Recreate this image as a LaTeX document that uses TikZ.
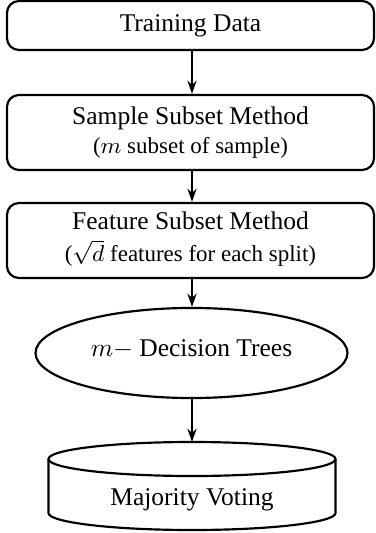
\documentclass[tikz,border=0pt]{standalone}
\usepackage{fontspec}
\setmainfont{Liberation Serif}
\usetikzlibrary{arrows.meta,shapes.geometric}
\begin{document}
\begin{tikzpicture}[x=0.392pt,y=-0.392pt,
  box/.style={draw,line width=0.85pt,rounded corners=4.7pt,minimum width=143.9pt,inner sep=0pt},
  arr/.style={-{Stealth[length=5.2pt,width=3.6pt]},line width=0.95pt},
  lbl/.style={anchor=base,inner sep=0pt,font=\fontsize{10}{12}\selectfont},
  sublbl/.style={anchor=base,inner sep=0pt,font=\small},
  oval/.style={draw,ellipse,line width=0.85pt,minimum width=122.3pt,minimum height=35.3pt,inner sep=0pt}]
\useasboundingbox (0,0) rectangle (375,533);
% boxes
\node[box,minimum height=19.2pt] (b1) at (190.5,25.5) {};
\node[lbl] (t1) at (190.5,31.7) {Training Data};
\node[box,minimum height=29.4pt] (b2) at (190.5,132.5) {};
\node[lbl] (t2) at (190.5,125) {Sample Subset Method};
\node[sublbl] (s2) at (190.5,154) {($m$ subset of sample)};
\node[box,minimum height=29.4pt] (b3) at (190.5,240.5) {};
\node[lbl] (t3) at (190.5,230) {Feature Subset Method};
\node[sublbl] (s3) at (190.5,262) {(\smash{$\sqrt{d}$}\ features for each split)};
% ellipse
\node[oval] (dt) at (191.5,353) {};
\node[lbl] (t4) at (191.5,357) {$m-$ Decision Trees};
% cylinder
\coordinate (ctop) at (192,442);
\draw[line width=0.85pt] (192,459) ellipse [x radius=143.5, y radius=17];
\draw[line width=0.85pt] (48.5,459) -- (48.5,513) arc[start angle=180,end angle=0,x radius=143.5,y radius=17] -- (335.5,459);
\node[lbl] (t5) at (192,505) {Majority Voting};
% arrows
\draw[arr] (b1.south -| ctop) -- (b2.north -| ctop);
\draw[arr] (b2.south -| ctop) -- (b3.north -| ctop);
\draw[arr] (b3.south -| ctop) -- (dt.north -| ctop);
\draw[arr] (dt.south -| ctop) -- (ctop);
\end{tikzpicture}
\end{document}
